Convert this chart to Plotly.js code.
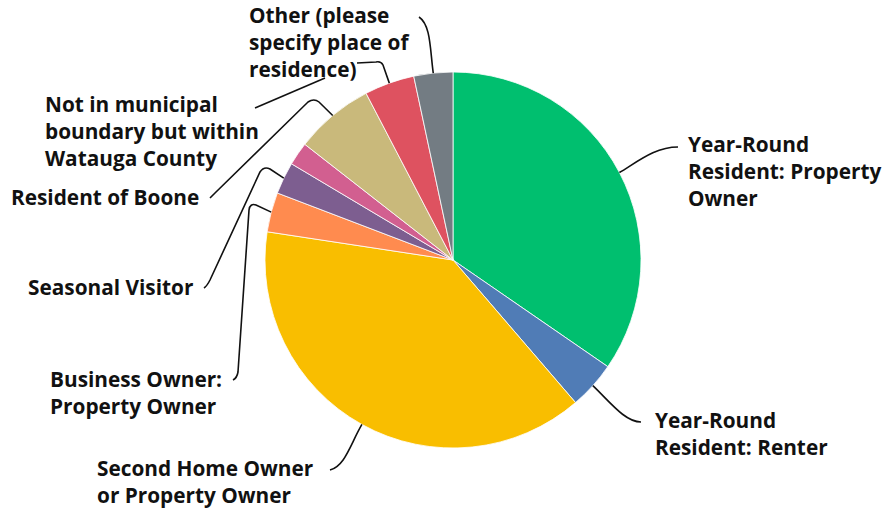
<!DOCTYPE html>
<html>
<head>
<meta charset="utf-8">
<script src="https://cdn.plot.ly/plotly-3.0.1.min.js"></script>
<style>html,body{margin:0;padding:0;background:#fff;}#chart{width:885px;height:510px;}</style>
</head>
<body>
<div id="chart"></div>
<script>
// ---- data ----
const categories = [
  "Year-Round Resident: Property Owner",
  "Year-Round Resident: Renter",
  "Second Home Owner or Property Owner",
  "Business Owner: Property Owner",
  "Seasonal Visitor",
  " ",
  "Resident of Boone",
  "Not in municipal boundary but within Watauga County",
  "Other (please specify place of residence)"
];
const values = [34.6, 4.1, 38.7, 3.4, 2.75, 2.0, 6.8, 4.3, 3.35];
const displayLabels = [
  "Year-Round<br>Resident: Property<br>Owner",
  "Year-Round<br>Resident: Renter",
  "Second Home Owner<br>or Property Owner",
  "Business Owner:<br>Property Owner",
  "Seasonal Visitor",
  "",
  "Resident of Boone",
  "Not in municipal<br>boundary but within<br>Watauga County",
  "Other (please<br>specify place of<br>residence)"
];
const colors = ["#00BF6F","#507CB6","#F9BE00","#FF8B4F","#7D5E90","#D25F90","#C9B97B","#DE5260","#737C83"];

// ---- layout (pixel positions, styles) ----
const W = 885, H = 510;
const CX = 453, CY = 260, R = 188;
const px = x => x / W;
const py = y => 1 - y / H;

// label left-edge / vertical-centre positions
const labelPos = [[686,171],[653,433],[95,481],[48,392],[26,287],null,[9,197],[43,131],[247,42]];

// leader paths; "S" = point on the slice edge computed from the data
const leaderPaths = [
  [["M","S"],["C",[640,160],[656,147],[678,147]]],
  [["M","S"],["C",[610,402],[625,422],[641,422]]],
  [["M","S"],["C",[350,445],[345,466],[330,470]]],
  [["M","S"],["L",[256,205]],["Q",[250,203],[249,210]],["L",[238,372]],["Q",[237,378],[233,380]]],
  [["M","S"],["L",[270,169]],["Q",[264,166],[260,172]],["L",[210,280]],["Q",[207,286],[204,288]]],
  null,
  [["M","S"],["L",[319,102]],["Q",[314,98],[308,102]],["L",[215,193]],["Q",[212,196],[210,198]]],
  [["M","S"],["L",[383,65]],["Q",[381,61],[376,62]],["L",[357,63]]],
  [["M","S"],["C",[430,50],[431,25],[419,17]]]
];
// the part of the "Not in municipal" leader visible below the "Other" label
const extraPaths = [
  [["M",[255,108]],["L",[325,78]]]
];

const total = values.reduce((a,b)=>a+b,0);
let cum = 0;
const edgePts = values.map(v => {
  const mid = (cum + v/2) / total * 2 * Math.PI;
  cum += v;
  return [CX + R * Math.sin(mid), CY - R * Math.cos(mid)];
});

function toPath(segs, s) {
  return segs.map(seg => {
    const cmd = seg[0];
    const pts = seg.slice(1).map(p => p === "S" ? s : p);
    return cmd + " " + pts.map(p => px(p[0]).toFixed(5) + "," + py(p[1]).toFixed(5)).join(" ");
  }).join(" ");
}

const shapes = [];
leaderPaths.forEach((segs, i) => {
  if (!segs) return;
  shapes.push({type:"path", xref:"paper", yref:"paper", path: toPath(segs, edgePts[i]),
    line:{color:"#111", width:1.6}, layer:"above"});
});
extraPaths.forEach(segs => {
  shapes.push({type:"path", xref:"paper", yref:"paper", path: toPath(segs, null),
    line:{color:"#111", width:1.6}, layer:"above"});
});

const annotations = [];
displayLabels.forEach((t, i) => {
  if (!t || !labelPos[i]) return;
  annotations.push({
    text: t, x: px(labelPos[i][0]), y: py(labelPos[i][1]), xref:"paper", yref:"paper",
    xanchor:"left", yanchor:"middle", align:"left", showarrow:false,
    font:{family:"Open Sans, sans-serif", size:20.8, weight:700, color:"#111"}
  });
});

const trace = {
  type:"pie", labels: categories, values: values, sort:false, direction:"clockwise", rotation:0,
  textinfo:"none", hoverinfo:"label+percent",
  marker:{colors: colors, line:{color:"#ffffff", width:0.8}},
  domain:{x:[(CX-R)/W, (CX+R)/W], y:[1-(CY+R)/H, 1-(CY-R)/H]},
  showlegend:false
};

Plotly.newPlot("chart", [trace], {
  width:W, height:H, margin:{l:0,r:0,t:0,b:0},
  paper_bgcolor:"#fff", plot_bgcolor:"#fff",
  shapes: shapes, annotations: annotations, showlegend:false
}, {displayModeBar:false, staticPlot:true});
</script>
</body>
</html>
